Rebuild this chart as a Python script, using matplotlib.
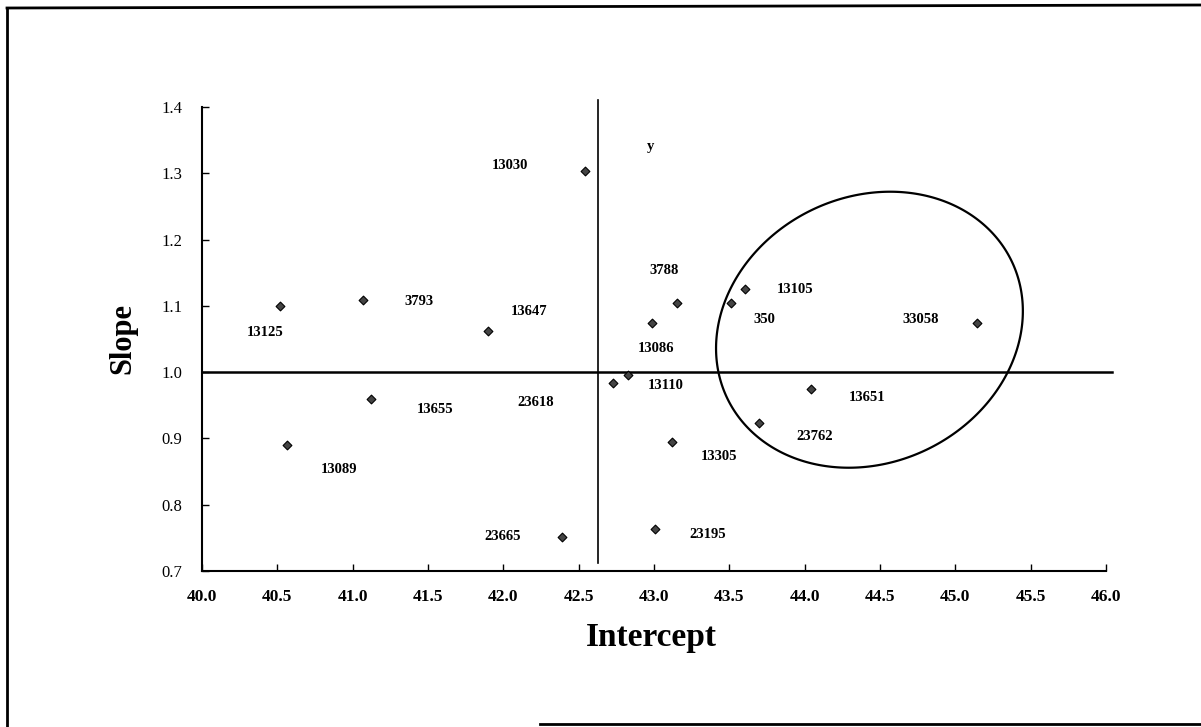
import numpy as np
import matplotlib
matplotlib.use("Agg")
import matplotlib.pyplot as plt
from matplotlib.lines import Line2D
from matplotlib.patches import Polygon

plt.rcParams['font.family'] = ['Liberation Serif', 'DejaVu Serif']

# data
ids = ["13125", "3793", "13647", "13030", "13655", "13089", "23665",
       "23618", "13110", "3788", "13086", "13105", "350", "33058",
       "13651", "23762", "13305", "23195"]
intercept = [40.52, 41.07, 41.895, 42.54, 41.12, 40.567, 42.39,
             42.728, 42.828, 43.153, 42.987, 43.603, 43.509, 45.142,
             44.044, 43.697, 43.117, 43.008]
slope = [1.100, 1.109, 1.062, 1.303, 0.959, 0.890, 0.752,
         0.983, 0.995, 1.105, 1.074, 1.125, 1.105, 1.0745,
         0.975, 0.924, 0.894, 0.764]

x_ticks = [40.0, 40.5, 41.0, 41.5, 42.0, 42.5, 43.0, 43.5, 44.0, 44.5, 45.0, 45.5, 46.0]
y_ticks = [0.7, 0.8, 0.9, 1.0, 1.1, 1.2, 1.3, 1.4]

# label offsets (points) relative to each marker
label_offsets = [(-11, -19), (40, -1), (30, 14), (-54, 4), (46, -7), (37, -17.5), (-43, 0),
                 (-56, -13.5), (27, -7), (-9, 23), (3, -18), (36, 0), (24, -12.5), (-40, 2.5),
                 (40, -6), (40, -10), (34, -10.5), (38, -4)]

W, H = 1201, 727
fig = plt.figure(figsize=(W / 100, H / 100), dpi=100)
ax = fig.add_axes([202 / W, 1 - 571 / H, 904 / W, 464 / H])

ax.scatter(intercept, slope, marker='D', s=20, facecolor='#444444',
           edgecolor='black', linewidths=0.8, zorder=3)

for name, x, y, off in zip(ids, intercept, slope, label_offsets):
    ax.annotate(name, (x, y), xytext=off, textcoords='offset points',
                ha='center', va='center', fontsize=10.5, fontweight='bold')

ax.text(42.98, 1.34, "y", ha='center', va='center', fontsize=10.5, fontweight='bold')

# reference lines
ax.plot([40.0, 46.04], [1.0, 1.0], color='black', lw=1.8, clip_on=False)
ax.plot([42.63, 42.63], [0.712, 1.41], color='black', lw=1.2, clip_on=False)

# hand-drawn oval around the right-hand group (pixel units, slightly sheared)
cx, cy = 44.43, 1.064
half_w, half_h, lean = 152, 138, 0.15
t = np.linspace(0, 2 * np.pi, 400, endpoint=False)
py = half_h * np.sin(t)
px = half_w * np.cos(t) + lean * py
oval = np.column_stack([cx + px * 6.0 / 904, cy + py * 0.7 / 464])
ax.add_patch(Polygon(oval, closed=True, fill=False, edgecolor='black', lw=1.6))

ax.set_xlim(40.0, 46.0)
ax.set_ylim(0.7, 1.4)
ax.set_xticks(x_ticks)
ax.set_yticks(y_ticks)
ax.set_xticklabels([f"{v:.1f}" for v in x_ticks], fontsize=12.5, fontweight='bold')
ax.set_yticklabels([f"{v:.1f}" for v in y_ticks], fontsize=12)
ax.tick_params(axis='x', direction='in', length=5, width=1, pad=13)
ax.tick_params(axis='y', direction='in', length=5, width=1, pad=14)
for side in ['top', 'right']:
    ax.spines[side].set_visible(False)
for side in ['left', 'bottom']:
    ax.spines[side].set_linewidth(1.5)

ax.set_xlabel("Intercept", fontsize=24, fontweight='bold', va='center')
ax.xaxis.set_label_coords(0.497, -0.143)
ax.set_ylabel("Slope", fontsize=22, fontweight='bold', va='center')
ax.yaxis.set_label_coords(-0.088, 0.5)

# scanned page border
fig.add_artist(Line2D([7 / W, 7 / W], [0, 1 - 8 / H], color='black', lw=2))
fig.add_artist(Line2D([7 / W, 1], [1 - 8 / H, 1 - 5 / H], color='black', lw=2))
fig.add_artist(Line2D([540 / W, 1], [1 - 724 / H, 1 - 724 / H], color='black', lw=2))

fig.savefig("out.png", dpi=100)
